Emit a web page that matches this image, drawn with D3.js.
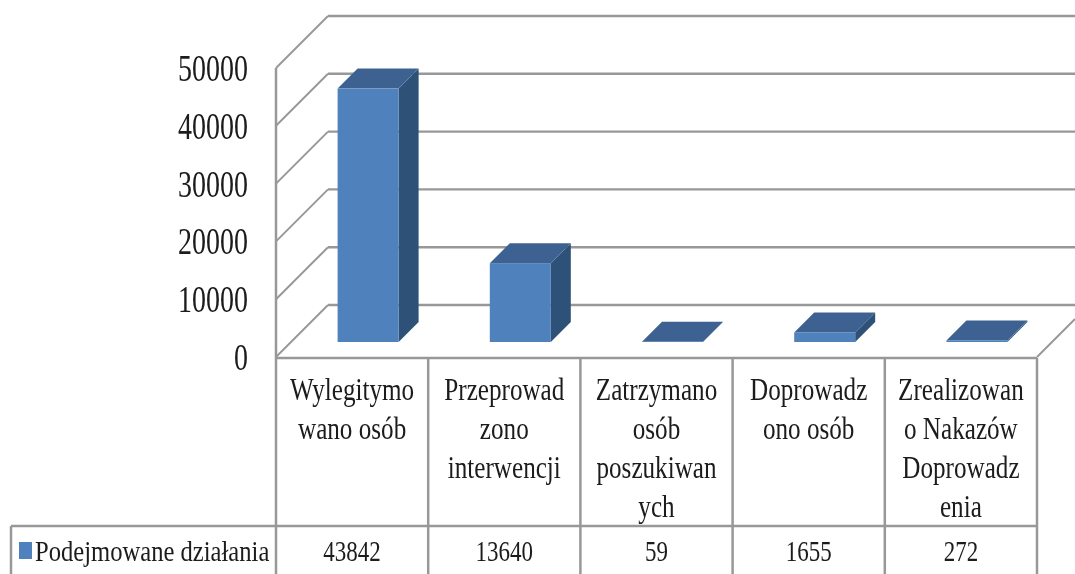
<!DOCTYPE html>
<html>
<head>
<meta charset="utf-8">
<script src="https://cdn.jsdelivr.net/npm/d3@7/dist/d3.min.js"></script>
<style>
html,body{margin:0;padding:0;background:#fff;overflow:hidden}
text{font-family:"Liberation Serif",serif;fill:#1a1a1a}
</style>
</head>
<body>
<svg id="chart" width="1075" height="574"></svg>
<script>
const categories = ["Wylegitymowano osób","Przeprowadzono interwencji","Zatrzymano osób poszukiwanych","Doprowadzono osób","Zrealizowano Nakazów Doprowadzenia"];
const categoryLines = [
  ["Wylegitymo","wano osób"],
  ["Przeprowad","zono","interwencji"],
  ["Zatrzymano","osób","poszukiwan","ych"],
  ["Doprowadz","ono osób"],
  ["Zrealizowan","o Nakazów","Doprowadz","enia"]
];
const values = [43842,13640,59,1655,272];
const seriesName = "Podejmowane działania";
const yTicks = [0,10000,20000,30000,40000,50000];

const C = {grid:"#989898",front:"#4f81bd",top:"#3c6291",side:"#2f5178"};
const svg = d3.select("#chart");
const soft = svg.append("defs").append("filter").attr("id","soft")
  .attr("x",0).attr("y",0).attr("width",1075).attr("height",574).attr("filterUnits","userSpaceOnUse");
soft.append("feGaussianBlur").attr("stdDeviation",0.45);
const root = svg.append("g").attr("filter","url(#soft)");

const yFront = d3.scaleLinear().domain([0,50000]).range([357,68]);
const x = d3.scaleBand().domain(categories).range([276,1037]).padding(0);
const wall = {dx:52,dy:-52};
const line = (x1,y1,x2,y2,w=2)=>root.append("line").attr("x1",x1).attr("y1",y1).attr("x2",x2).attr("y2",y2)
  .attr("stroke",C.grid).attr("stroke-width",w);

// walls
line(276,yFront(50000),276,574,2.5);
yTicks.forEach(t=>{
  const y=yFront(t);
  line(276,y,276+wall.dx,y+wall.dy);
  line(276+wall.dx,y+wall.dy,1075,y+wall.dy,2.4);
});
line(1037,yFront(0),1075,yFront(0)-38);

// bars
const barW=61, barDepth=20, barInset=(x.bandwidth()-barW)/2+16, baseY=yFront(0)-15;
const h=d3.scaleLinear().domain([0,50000]).range([0,289]);
const bars=root.selectAll("g.bar").data(values).join("g").attr("class","bar");
const poly=d3.line();
bars.each(function(v,i){
  const g=d3.select(this), x0=x(categories[i])+barInset, x1=x0+barW, t=baseY-h(v), d=barDepth;
  g.append("path").attr("fill",C.side).attr("d",poly([[x1,baseY],[x1+d,baseY-d],[x1+d,t-d],[x1,t]])+"Z");
  g.append("path").attr("fill",C.top).attr("d",poly([[x0,t],[x0+d,t-d],[x1+d,t-d],[x1,t]])+"Z");
  g.append("rect").attr("fill",C.front).attr("x",x0).attr("width",barW).attr("y",t).attr("height",baseY-t);
});

// y axis labels
const axis=root.append("g").attr("transform","translate(248,0)")
  .call(d3.axisLeft(yFront).tickValues(yTicks).tickFormat(d3.format("d")).tickSize(0).tickPadding(0));
axis.select(".domain").remove();
axis.selectAll("text").attr("x",0).attr("dy","0.34em").attr("transform","scale(1,1.32)")
  .style("font-family",'"Liberation Serif",serif').style("font-size","28px").attr("fill","#1a1a1a");

// data table
line(276,358,1037,358,2.5);
line(11,526,1037,526,2.5);
line(11,526,11,574,2.5);
x.domain().forEach(c=>line(x(c)+x.bandwidth(),358,x(c)+x.bandwidth(),574,2.5));

const stretched=(sel,px,sx,sy,bx,by)=>sel.attr("transform",`translate(${bx},${by}) scale(${sx},${sy})`).style("font-size",px+"px");
categoryLines.forEach((ls,i)=>{
  const cx=x(categories[i])+x.bandwidth()/2;
  ls.forEach((s,j)=>{
    root.append("text").attr("text-anchor","middle").text(s).call(stretched,23.5,1.07,1.3,cx,400+j*39);
  });
  root.append("text").attr("text-anchor","middle").text(values[i]).call(stretched,23,1,1.32,cx,561);
});
root.append("rect").attr("x",19).attr("y",542).attr("width",13).attr("height",17).attr("fill",C.front);
root.append("text").text(seriesName).call(stretched,23,1.07,1.3,35,561);
</script>
</body>
</html>
